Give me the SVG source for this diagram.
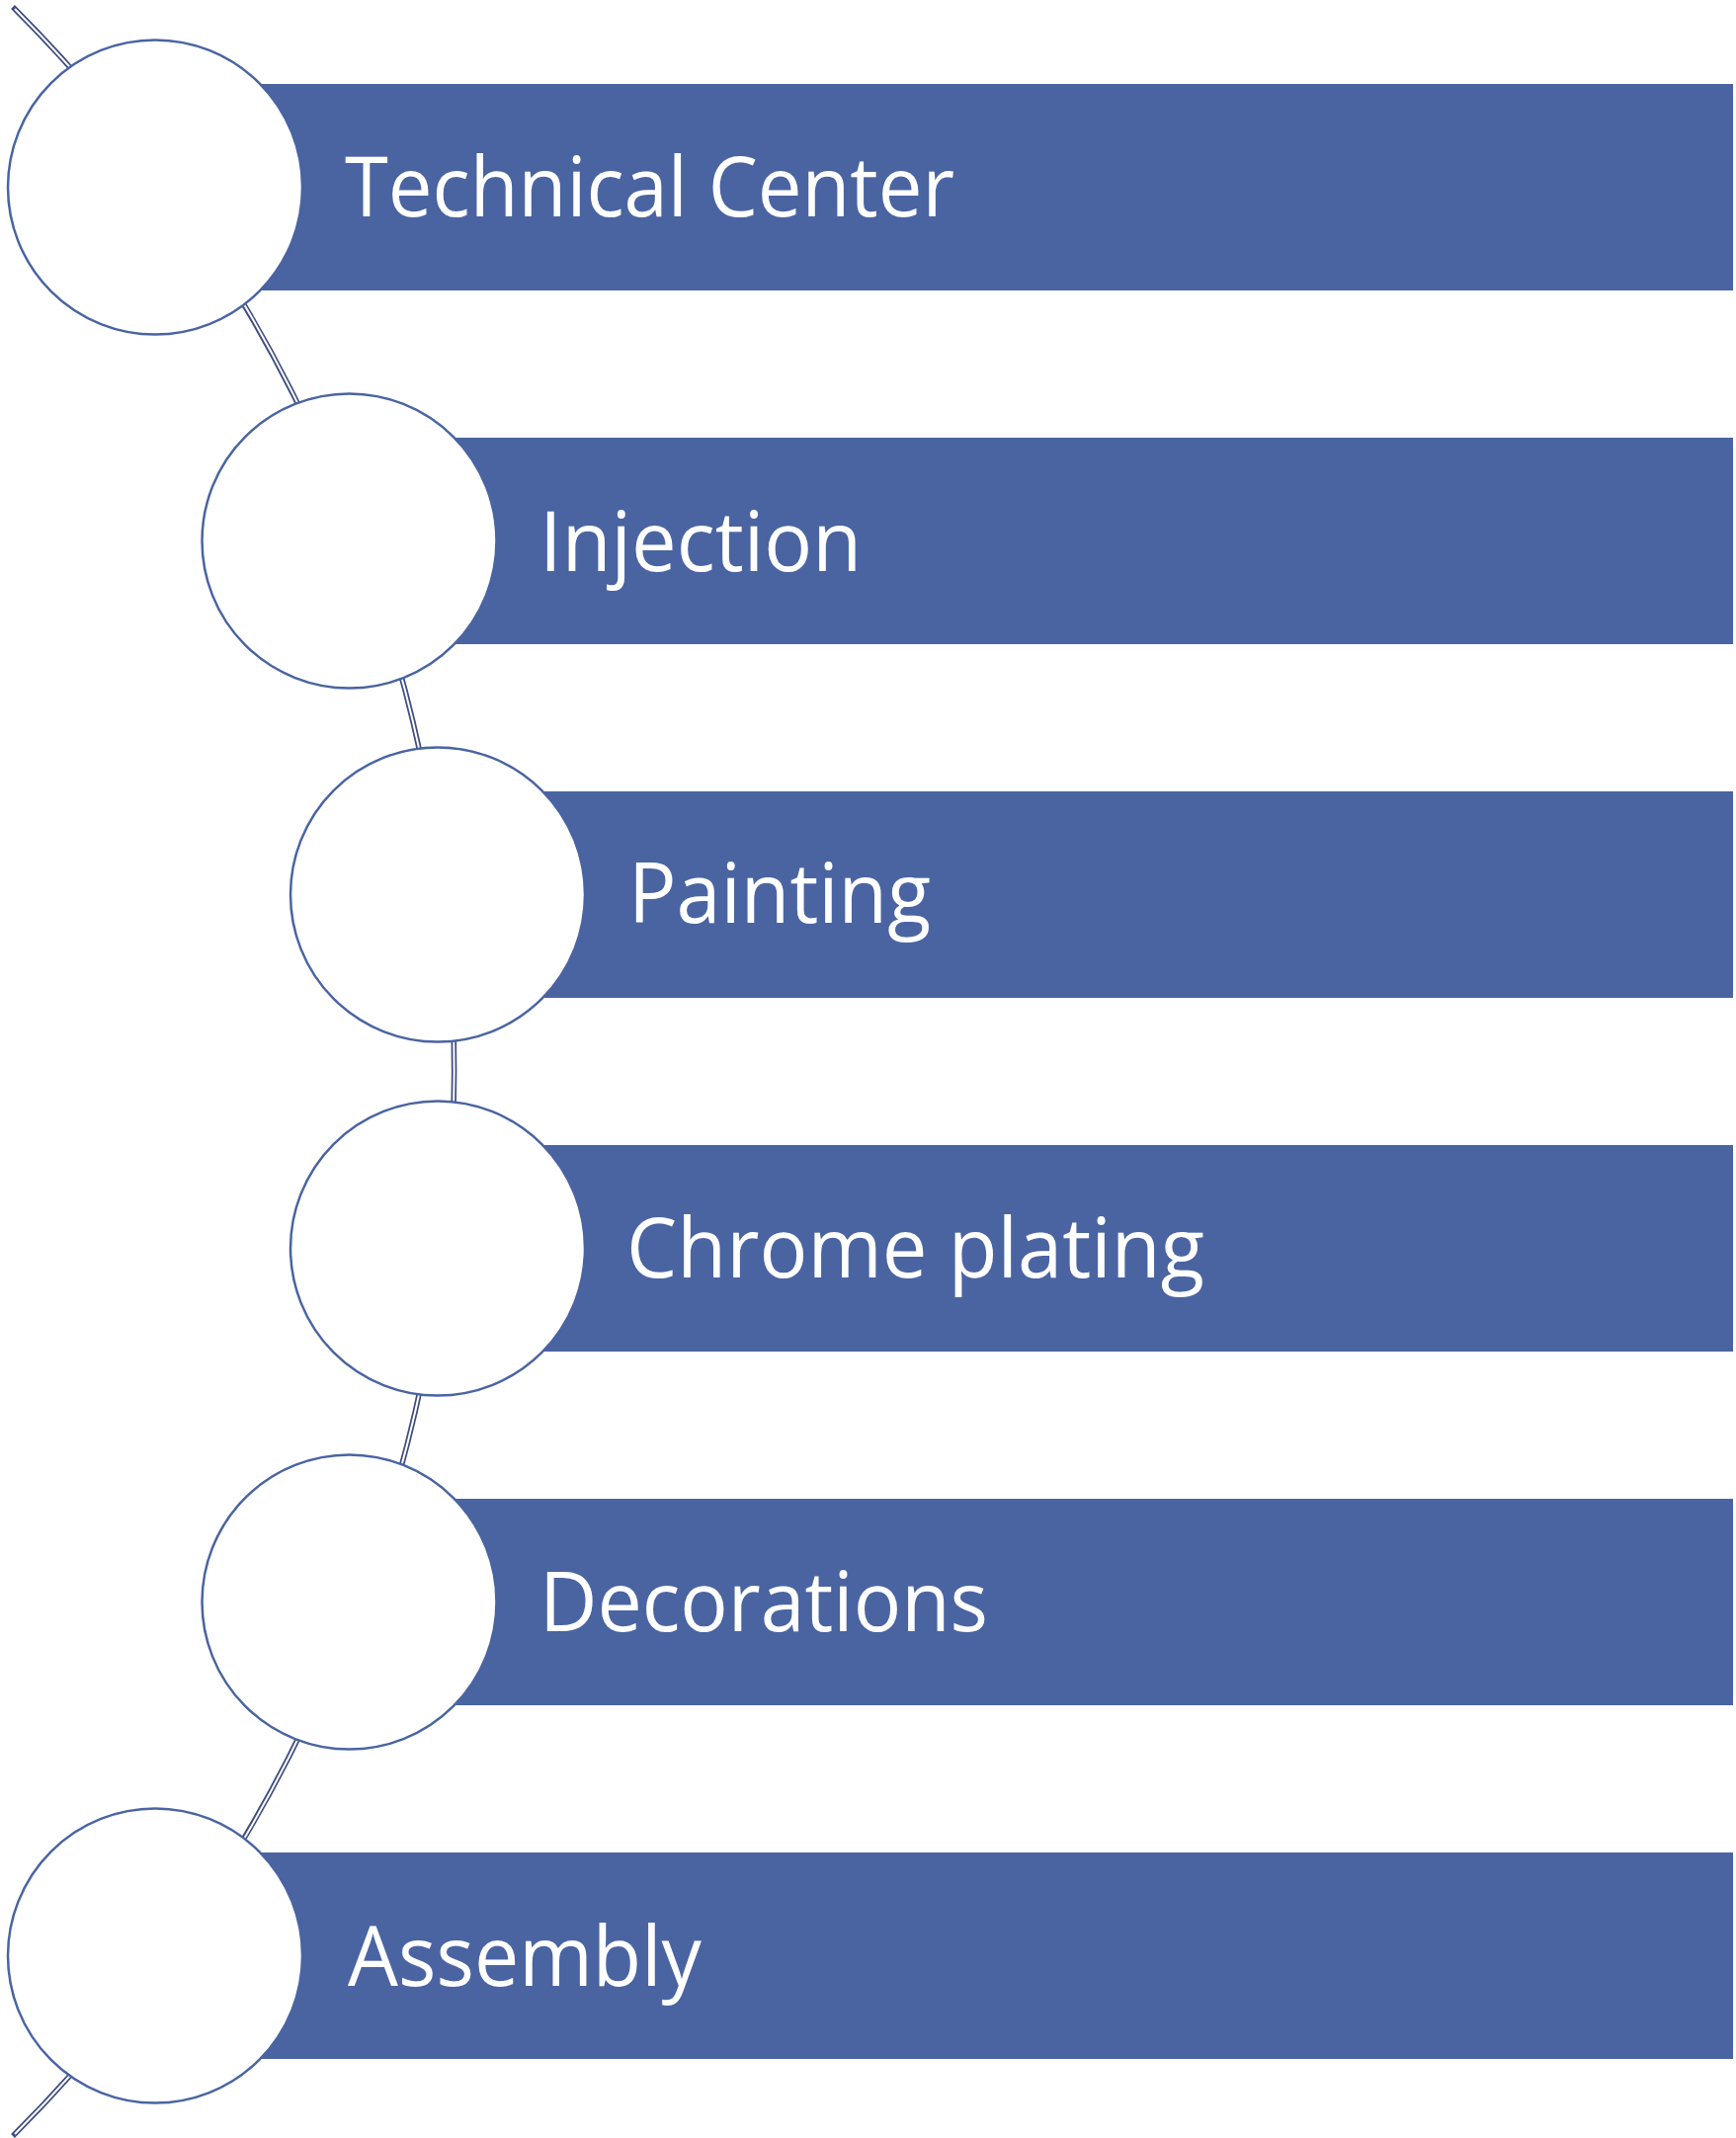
<svg xmlns="http://www.w3.org/2000/svg" width="1757" height="2164" viewBox="0 0 1757 2164">
<style>
.bar{fill:#4A64A2;}
.node{fill:#FFFFFF;stroke:#4A64A2;stroke-width:2.5;}
.lbl{font-family:"Open Sans","Noto Sans","Liberation Sans",sans-serif;font-size:84px;fill:#FFFFFF;}
.arcOuter{fill:none;stroke:#3F4D80;stroke-width:5.5;}
.arcInner{fill:none;stroke:#FFFFFF;stroke-width:2;}
</style>
<rect width="1757" height="2164" fill="#FFFFFF"/>
<g id="connectors">
<path class="arcOuter" d="M 13 7 A 1523 1523 0 0 1 13 2162"/>
<path class="arcInner" d="M 15 9 A 1523 1523 0 0 1 15 2160"/>
</g>
<g id="node-technical-center">
<rect class="bar" x="157" y="85" width="1597" height="209"/>
<circle class="node" cx="157" cy="189.5" r="149"/>
<text class="lbl" x="349" y="219" textLength="617" lengthAdjust="spacingAndGlyphs">Technical Center</text>
</g>
<g id="node-injection">
<rect class="bar" x="353.5" y="443" width="1400.5" height="209"/>
<circle class="node" cx="353.5" cy="547.5" r="149"/>
<text class="lbl" x="546" y="578" textLength="326" lengthAdjust="spacingAndGlyphs">Injection</text>
</g>
<g id="node-painting">
<rect class="bar" x="443" y="801" width="1311" height="209"/>
<circle class="node" cx="443" cy="905.5" r="149"/>
<text class="lbl" x="636" y="934" textLength="306" lengthAdjust="spacingAndGlyphs">Painting</text>
</g>
<g id="node-chrome-plating">
<rect class="bar" x="443" y="1159" width="1311" height="209"/>
<circle class="node" cx="443" cy="1263.5" r="149"/>
<text class="lbl" x="634" y="1293" textLength="585" lengthAdjust="spacingAndGlyphs">Chrome plating</text>
</g>
<g id="node-decorations">
<rect class="bar" x="353.5" y="1517" width="1400.5" height="209"/>
<circle class="node" cx="353.5" cy="1621.5" r="149"/>
<text class="lbl" x="546" y="1651" textLength="454" lengthAdjust="spacingAndGlyphs">Decorations</text>
</g>
<g id="node-assembly">
<rect class="bar" x="157" y="1875" width="1597" height="209"/>
<circle class="node" cx="157" cy="1979.5" r="149"/>
<text class="lbl" x="352" y="2010" textLength="358" lengthAdjust="spacingAndGlyphs">Assembly</text>
</g>
</svg>
